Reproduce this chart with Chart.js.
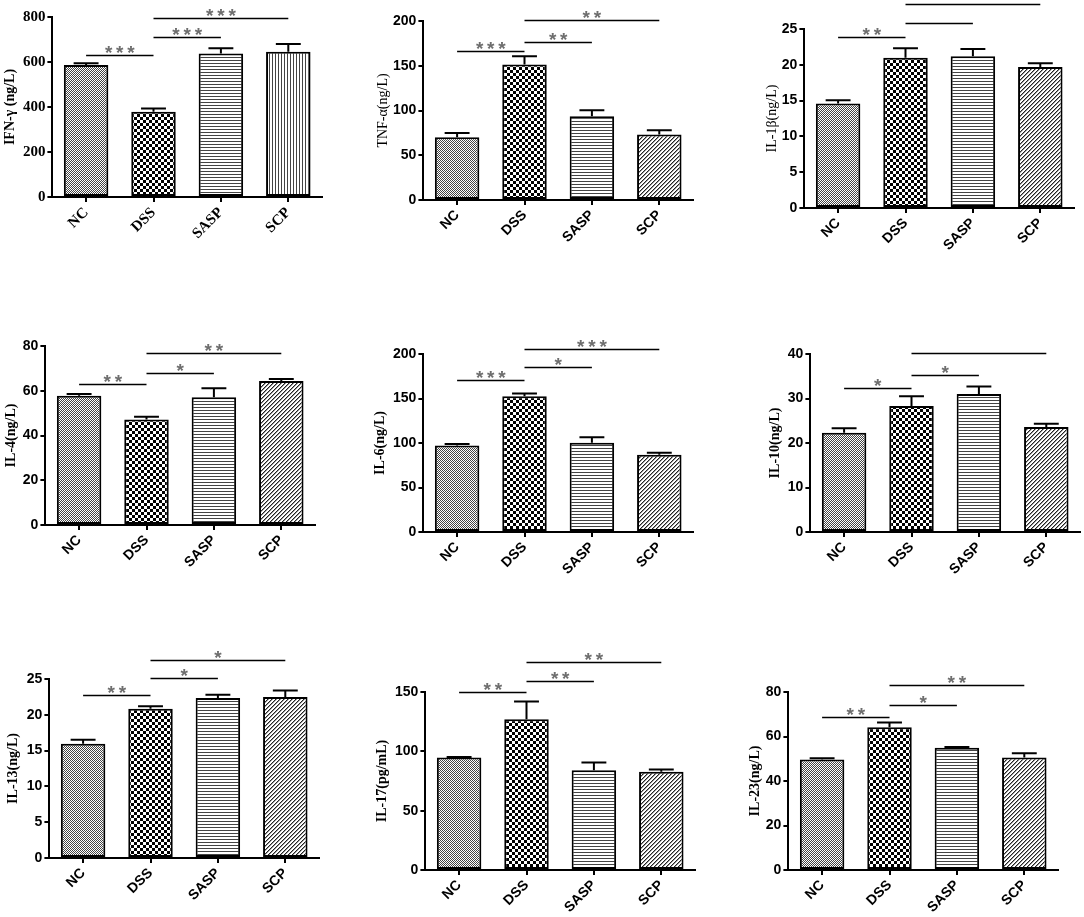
<!DOCTYPE html>
<html>
<head>
<meta charset="utf-8">
<script src="https://cdn.jsdelivr.net/npm/chart.js@4.4.1/dist/chart.umd.min.js"></script>
<style>
  html, body { margin: 0; padding: 0; background: #fff; width: 1084px; height: 917px; overflow: hidden; position: relative; }
  canvas { position: absolute; }
</style>
</head>
<body>
<script>
// ── Data ─────────────────────────────────────────────────────────────────────
const groups = ["NC", "DSS", "SASP", "SCP"];

const axisTitles = ["IFN-γ (ng/L)", "TNF-α(ng/L)", "IL-1β(ng/L)",
                    "IL-4(ng/L)", "IL-6(ng/L)", "IL-10(ng/L)",
                    "IL-13(ng/L)", "IL-17(pg/mL)", "IL-23(ng/L)"];

const yMax  = [800, 200, 25, 80, 200, 40, 25, 150, 80];
const yStep = [200, 50, 5, 20, 50, 10, 5, 50, 20];

const ifnMean  = [587, 379, 638, 646];      const ifnSem  = [8, 14, 23, 34];
const tnfMean  = [70, 151.3, 93.7, 73.3];   const tnfSem  = [5, 9.3, 6.7, 4.7];
const il1bMean = [14.6, 21.0, 21.2, 19.7];  const il1bSem = [0.45, 1.3, 1.0, 0.5];
const il4Mean  = [57.8, 47.1, 57.1, 64.4];  const il4Sem  = [0.7, 1.3, 4.0, 0.9];
const il6Mean  = [97.2, 152.5, 100.2, 86.8];const il6Sem  = [1.8, 3.0, 6.3, 2.2];
const il10Mean = [22.3, 28.3, 31.0, 23.6];  const il10Sem = [1.0, 2.2, 1.7, 0.7];
const il13Mean = [15.96, 20.85, 22.35, 22.5]; const il13Sem = [0.55, 0.35, 0.45, 0.9];
const il17Mean = [94.8, 127, 84.1, 82.7];   const il17Sem = [0.5, 14.9, 6.5, 2.0];
const il23Mean = [49.7, 64.2, 54.9, 50.6];  const il23Sem = [0.5, 2.1, 0.4, 1.9];

const means = [ifnMean, tnfMean, il1bMean, il4Mean, il6Mean, il10Mean, il13Mean, il17Mean, il23Mean];
const sems  = [ifnSem, tnfSem, il1bSem, il4Sem, il6Sem, il10Sem, il13Sem, il17Sem, il23Sem];

// significance brackets: [from, to, height (axis units), label]
const brackets = [
  [[0, 1, 631, "***"], [1, 2, 711, "***"], [1, 3, 797, "***"]],
  [[0, 1, 167, "***"], [1, 2, 176, "**"], [1, 3, 201.5, "**"]],
  [[0, 1, 23.9, "**"], [1, 2, 25.8, ""], [1, 3, 28.5, ""]],
  [[0, 1, 63.0, "**"], [1, 2, 67.8, "*"], [1, 3, 76.7, "**"]],
  [[0, 1, 170.4, "***"], [1, 2, 185.4, "*"], [1, 3, 205.6, "***"]],
  [[0, 1, 32.3, "*"], [1, 2, 35.3, "*"], [1, 3, 40.3, ""]],
  [[0, 1, 22.7, "**"], [1, 2, 25.1, "*"], [1, 3, 27.7, "*"]],
  [[0, 1, 149.7, "**"], [1, 2, 159.2, "**"], [1, 3, 175, "**"]],
  [[0, 1, 68.9, "**"], [1, 2, 74.3, "*"], [1, 3, 83.0, "**"]]
];

// ── Layout (plot area positions on the page) ────────────────────────────────
// axisX, top pixel of y max, zero pixel, distance of y title centre from axis
const panels = [
  { x: 52,  top: 17,    zero: 197,   titleDist: 42 },
  { x: 423, top: 20.7,  zero: 200,   titleDist: 40 },
  { x: 804, top: 29.3,  zero: 208.3, titleDist: 32 },
  { x: 45,  top: 346,   zero: 525,   titleDist: 34 },
  { x: 423, top: 354.3, zero: 532.7, titleDist: 43 },
  { x: 810, top: 354.3, zero: 532.7, titleDist: 35 },
  { x: 49,  top: 679.3, zero: 858.3, titleDist: 36 },
  { x: 425, top: 691.7, zero: 870,   titleDist: 43 },
  { x: 788, top: 691.7, zero: 870,   titleDist: 33 }
];
const PLOT_W = 270, PAD_TOP = 50, PAD_RIGHT = 8, X_H = 60;
const TITLE_SIZE = 14;

// ── Fill patterns ────────────────────────────────────────────────────────────
function tile(w, h, paint) {
  const c = document.createElement("canvas");
  c.width = w; c.height = h;
  const g = c.getContext("2d");
  g.fillStyle = "#fff"; g.fillRect(0, 0, w, h);
  paint(g);
  return g.createPattern(c, "repeat");
}
const patNC = tile(2, 2, (g) => { g.fillStyle = "#444"; g.fillRect(0, 0, 1, 1); g.fillRect(1, 1, 1, 1); });
const patDSS = tile(6, 6, (g) => { g.fillStyle = "#000"; g.fillRect(0, 0, 3, 3); g.fillRect(3, 3, 3, 3); });
const patHoriz = tile(1, 3, (g) => { g.fillStyle = "#444"; g.fillRect(0, 0, 1, 1); });
const patVert = tile(3, 1, (g) => { g.fillStyle = "#444"; g.fillRect(0, 0, 1, 1); });
const patDiag = tile(4, 4, (g) => {
  for (let x = 0; x < 4; x++) for (let y = 0; y < 4; y++) {
    const k = (x + y) % 4;
    if (k === 0) { g.fillStyle = "#222"; g.fillRect(x, y, 1, 1); }
    if (k === 1) { g.fillStyle = "#999"; g.fillRect(x, y, 1, 1); }
  }
});

// ── Plugins ──────────────────────────────────────────────────────────────────
const errorBars = {
  id: "errorBars",
  afterDatasetsDraw(chart, args, opts) {
    const { ctx } = chart;
    const yScale = chart.scales.y;
    const meta = chart.getDatasetMeta(0);
    ctx.save();
    ctx.strokeStyle = "#000";
    ctx.lineWidth = 2;
    meta.data.forEach((bar, i) => {
      const yTop = yScale.getPixelForValue(opts.mean[i] + opts.sem[i]);
      const half = bar.width * 0.28;
      ctx.beginPath();
      ctx.moveTo(bar.x, bar.y);
      ctx.lineTo(bar.x, yTop);
      ctx.moveTo(bar.x - half, yTop);
      ctx.lineTo(bar.x + half, yTop);
      ctx.stroke();
    });
    ctx.restore();
  }
};

const sigBrackets = {
  id: "sigBrackets",
  afterDraw(chart, args, opts) {
    const { ctx } = chart;
    const xs = chart.scales.x, ys = chart.scales.y;
    ctx.save();
    for (const [a, b, v, label] of opts.items) {
      const y = Math.round(ys.getPixelForValue(v)) + 0.5;
      const x1 = xs.getPixelForValue(a), x2 = xs.getPixelForValue(b);
      ctx.strokeStyle = "#000";
      ctx.lineWidth = 1.6;
      ctx.beginPath();
      ctx.moveTo(x1, y);
      ctx.lineTo(x2, y);
      ctx.stroke();
      if (label) {
        ctx.fillStyle = "#6e6e6e";
        ctx.font = "bold 19px 'Liberation Sans', Arial, sans-serif";
        ctx.textAlign = "center";
        ctx.textBaseline = "alphabetic";
        ctx.fillText(label.split("").join("\u2009"), (x1 + x2) / 2, y + 3);
      }
    }
    ctx.restore();
  }
};

// ── Build charts ─────────────────────────────────────────────────────────────
Chart.defaults.color = "#000";

panels.forEach((p, i) => {
  const yW = p.titleDist + TITLE_SIZE * 0.6;
  const plotH = p.zero - p.top;
  const canvas = document.createElement("canvas");
  const w = Math.round(yW + PLOT_W + PAD_RIGHT);
  const h = Math.round(PAD_TOP + plotH + X_H);
  canvas.width = w; canvas.height = h;
  canvas.style.width = w + "px"; canvas.style.height = h + "px";
  canvas.style.left = (p.x - yW) + "px";
  canvas.style.top = (p.top - PAD_TOP) + "px";
  document.body.appendChild(canvas);

  const serifTicks = i === 0;
  const tickFont = serifTicks
    ? { family: "'Liberation Serif', 'Times New Roman', serif", weight: "bold", size: 15 }
    : { family: "'Liberation Sans', Arial, sans-serif", weight: "bold", size: 14 };
  const titleWeight = (i === 1 || i === 2) ? "normal" : "bold";

  new Chart(canvas, {
    type: "bar",
    data: {
      labels: groups,
      datasets: [{
        data: means[i],
        backgroundColor: [patNC, patDSS, patHoriz, i === 0 ? patVert : patDiag],
        borderColor: "#000",
        borderWidth: 2,
        borderSkipped: false,
        categoryPercentage: 1,
        barPercentage: 0.66
      }]
    },
    options: {
      responsive: false,
      animation: false,
      layout: { padding: { top: PAD_TOP, right: PAD_RIGHT, left: 0, bottom: 0 } },
      plugins: {
        legend: { display: false },
        tooltip: { enabled: false },
        errorBars: { mean: means[i], sem: sems[i] },
        sigBrackets: { items: brackets[i] }
      },
      scales: {
        x: {
          afterFit: (s) => { s.height = X_H; },
          border: { color: "#000", width: 2 },
          grid: { drawOnChartArea: false, drawTicks: true, tickLength: 5, color: "#000", lineWidth: 2, offset: false },
          ticks: { font: tickFont, color: "#000", minRotation: 45, maxRotation: 45, padding: 2 }
        },
        y: {
          min: 0, max: yMax[i],
          afterFit: (s) => { s.width = yW; },
          border: { color: "#000", width: 2 },
          grid: { drawOnChartArea: false, drawTicks: true, tickLength: 5, color: "#000", lineWidth: 2 },
          ticks: { stepSize: yStep[i], font: tickFont, color: "#000", padding: 2 },
          title: {
            display: true,
            text: axisTitles[i],
            color: "#000",
            padding: 0,
            font: { family: "'Liberation Serif', 'Times New Roman', serif", weight: titleWeight, size: TITLE_SIZE }
          }
        }
      }
    },
    plugins: [errorBars, sigBrackets]
  });
});
</script>
</body>
</html>
